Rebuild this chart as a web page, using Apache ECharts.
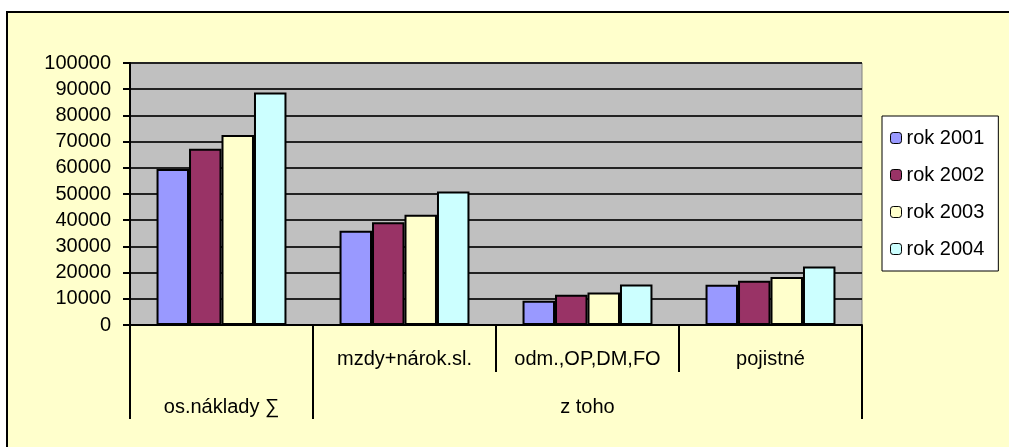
<!DOCTYPE html>
<html>
<head>
<meta charset="utf-8">
<script src="https://cdn.jsdelivr.net/npm/echarts@6/dist/echarts.min.js"></script>
<style>
html,body{margin:0;padding:0;background:#fff;}
#c{width:1009px;height:447px;}
</style>
</head>
<body>
<div id="c"></div>
<script>
var categories = ['', 'mzdy+nárok.sl.', 'odm.,OP,DM,FO', 'pojistné'];
var groupLabels = ['os.náklady ∑', 'z toho'];
var groupSpans = [1, 3];
var seriesNames = ['rok 2001', 'rok 2002', 'rok 2003', 'rok 2004'];
var rok2001 = [59500, 36000, 9300, 15400];
var rok2002 = [67300, 39200, 11500, 16900];
var rok2003 = [72500, 42100, 12400, 18300];
var rok2004 = [88700, 51000, 15500, 22300];
var yTicks = [0, 10000, 20000, 30000, 40000, 50000, 60000, 70000, 80000, 90000, 100000];

var colors = ['#9999FF', '#993366', '#FFFFCC', '#CCFFFF'];
var values = [rok2001, rok2002, rok2003, rok2004];
var FONT = "'Liberation Sans', Arial, sans-serif";
var FS = 20;

var bounds = [0], centres = [], acc = 0;
groupSpans.forEach(function (s) { centres.push(acc + s / 2); acc += s; bounds.push(acc); });

var chart = echarts.init(document.getElementById('c'));
chart.setOption({
  animation: false,
  graphic: [{
    type: 'rect', z: -100, silent: true,
    shape: { x: 7, y: 12, width: 1030, height: 460 },
    style: { fill: '#FFFFCC', stroke: '#000', lineWidth: 2 }
  }],
  textStyle: { fontFamily: FONT, color: '#000' },
  grid: {
    left: 130, top: 63, right: 147, bottom: 122,
    show: true, backgroundColor: '#C0C0C0', borderColor: '#808080', borderWidth: 1
  },
  legend: {
    orient: 'vertical', left: 882, top: 116,
    padding: [12, 14, 12, 8], itemGap: 17, itemWidth: 11, itemHeight: 11,
    backgroundColor: '#fff', borderColor: '#000', borderWidth: 1,
    textStyle: { fontFamily: FONT, fontSize: FS, color: '#000' },
    itemStyle: { borderColor: '#000', borderWidth: 1 },
    data: seriesNames
  },
  xAxis: [{
    type: 'category', data: categories, position: 'bottom',
    axisLine: { lineStyle: { color: '#000', width: 2 } },
    axisTick: { show: true, interval: 0, length: 47, lineStyle: { color: '#000', width: 2 } },
    axisLabel: { interval: 0, margin: 24, fontSize: FS, color: '#000', fontFamily: FONT },
    splitLine: { show: false }
  }, {
    type: 'value', min: 0, max: bounds[bounds.length - 1], position: 'bottom', offset: 47,
    axisLine: { show: false },
    splitLine: { show: false },
    axisTick: { show: true, length: 47, customValues: bounds, lineStyle: { color: '#000', width: 2 } },
    axisLabel: {
      show: true, margin: 25, fontSize: FS, color: '#000', fontFamily: FONT,
      customValues: centres,
      formatter: function (v) {
        var i = centres.indexOf(v);
        return i >= 0 ? groupLabels[i] : '';
      }
    }
  }],
  yAxis: {
    type: 'value', min: yTicks[0], max: yTicks[yTicks.length - 1], interval: yTicks[1] - yTicks[0],
    axisLine: { show: true, lineStyle: { color: '#000', width: 2 } },
    axisTick: { show: true, length: 7, lineStyle: { color: '#000', width: 2 } },
    axisLabel: { margin: 19, fontSize: FS, color: '#000', fontFamily: FONT,
      formatter: function (v) { return String(v); } },
    splitLine: { show: true, lineStyle: { color: '#222', width: 2 } }
  },
  series: seriesNames.map(function (n, i) {
    return {
      name: n, type: 'bar', xAxisIndex: 0, data: values[i],
      barGap: '0%', barCategoryGap: '29%',
      itemStyle: { color: colors[i], borderColor: '#000', borderWidth: 2 }
    };
  })
});
</script>
</body>
</html>
